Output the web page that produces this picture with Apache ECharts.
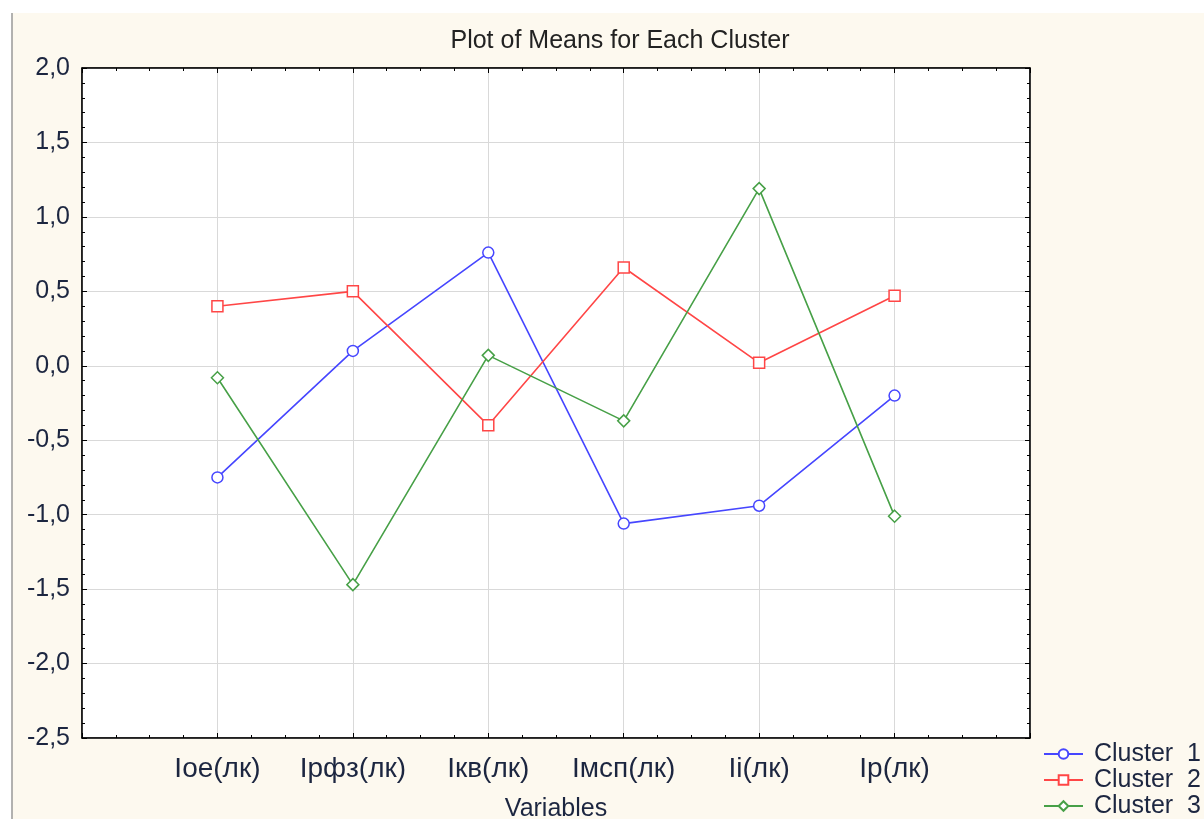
<!DOCTYPE html>
<html>
<head>
<meta charset="utf-8">
<script src="https://cdn.jsdelivr.net/npm/echarts@6/dist/echarts.min.js"></script>
<style>html,body{margin:0;padding:0;background:#fff;}#c{width:1204px;height:819px;}</style>
</head>
<body>
<div id="c"></div>
<script>
var categories = ['Ioe(лк)', 'Iрфз(лк)', 'Iкв(лк)', 'Iмсп(лк)', 'Ii(лк)', 'Ip(лк)'];
var cluster1 = [-0.75, 0.10, 0.76, -1.06, -0.94, -0.20];
var cluster2 = [0.40, 0.50, -0.40, 0.66, 0.02, 0.47];
var cluster3 = [-0.08, -1.47, 0.07, -0.37, 1.19, -1.01];
var seriesNames = ['Cluster  1', 'Cluster  2', 'Cluster  3'];
var yTicks = [-2.5, -2.0, -1.5, -1.0, -0.5, 0.0, 0.5, 1.0, 1.5, 2.0];

function pts(arr){ return arr.map(function(v,i){ return [i+1, v]; }); }
var font = 'Liberation Sans, Arial, sans-serif';
var txt = '#1c2640';

var chart = echarts.init(document.getElementById('c'));
var tickCommon = {show:true, inside:true, length:5, lineStyle:{color:'#000', width:1}};
var minorCommon = {show:true, length:3, lineStyle:{color:'#000', width:1}};
var lineCommon = {show:true, onZero:false, lineStyle:{color:'#000', width:1.5}};
function mkSeries(name, data, color, symbol, size){
  return {
    name:name, type:'line', data:pts(data), xAxisIndex:0, yAxisIndex:0,
    symbol:symbol, symbolSize:size, showSymbol:true,
    lineStyle:{color:color, width:1.6},
    itemStyle:{color:'#ffffff', borderColor:color, borderWidth:1.5},
    emphasis:{disabled:true}, animation:false
  };
}
function mkLegend(name, top){
  return {orient:'vertical', left:1043, top:top, padding:0, itemGap:0, itemWidth:39, itemHeight:12,
    textStyle:{fontFamily:font, fontSize:25, lineHeight:26, color:txt, padding:[0,0,0,6]},
    data:[name]};
}
chart.setOption({
  animation:false,
  backgroundColor:'#ffffff',
  textStyle:{fontFamily:font},
  graphic:[
    {type:'rect', shape:{x:12, y:13, width:1192, height:806}, style:{fill:'#fdf9ef'}, z:-10, silent:true},
    {type:'line', shape:{x1:12, y1:13, x2:12, y2:819}, style:{stroke:'#999', lineWidth:1.5}, z:-9, silent:true}
  ],
  title:{text:'Plot of Means for Each Cluster', left:615, top:24, textAlign:'center',
    textStyle:{fontFamily:font, fontSize:25, fontWeight:'normal', color:'#222'}},
  grid:{left:82, right:174, top:68, bottom:81, containLabel:false, outerBoundsMode:'none',
    show:true, backgroundColor:'#ffffff', borderColor:'#000', borderWidth:1},
  legend:[mkLegend(seriesNames[0], 741), mkLegend(seriesNames[1], 767), mkLegend(seriesNames[2], 793)],
  xAxis:[{
    type:'value', min:0, max:7, interval:1,
    name:'Variables', nameLocation:'middle', nameGap:59,
    nameTextStyle:{fontFamily:font, fontSize:25, color:txt},
    axisLine:lineCommon,
    axisTick:tickCommon, minorTick:Object.assign({splitNumber:4}, minorCommon),
    splitLine:{show:true, lineStyle:{color:'#d9d9d9', width:1}},
    axisLabel:{fontFamily:font, fontSize:28, color:txt, margin:17,
      formatter:function(v){ var i=Math.round(v)-1; return (i>=0 && i<categories.length)?categories[i]:''; }}
  },{
    type:'value', min:0, max:7, interval:1, position:'top',
    axisLine:lineCommon,
    axisTick:tickCommon, minorTick:Object.assign({splitNumber:4}, minorCommon),
    splitLine:{show:false}, axisLabel:{show:false}
  }],
  yAxis:[{
    type:'value', min:-2.5, max:2.0, interval:0.5,
    axisLine:lineCommon,
    axisTick:tickCommon, minorTick:Object.assign({splitNumber:5}, minorCommon),
    splitLine:{show:true, lineStyle:{color:'#d9d9d9', width:1}},
    axisLabel:{fontFamily:font, fontSize:25, color:txt, margin:12,
      formatter:function(v){
        var m = yTicks.filter(function(t){ return Math.abs(t-v)<1e-6; });
        return m.length ? m[0].toFixed(1).replace('.', ',') : '';
      }}
  },{
    type:'value', min:-2.5, max:2.0, interval:0.5, position:'right',
    axisLine:lineCommon,
    axisTick:tickCommon, minorTick:Object.assign({splitNumber:5}, minorCommon),
    splitLine:{show:false}, axisLabel:{show:false}
  }],
  series:[
    mkSeries(seriesNames[0], cluster1, '#4646ff', 'circle', 11),
    mkSeries(seriesNames[1], cluster2, '#ff4646', 'rect', 11),
    mkSeries(seriesNames[2], cluster3, '#47a047', 'diamond', 12)
  ]
});
</script>
</body>
</html>
